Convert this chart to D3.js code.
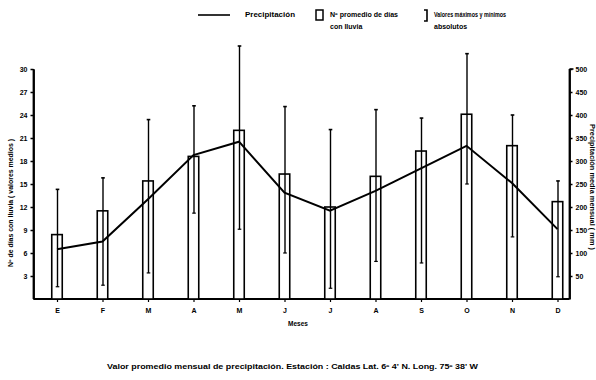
<!DOCTYPE html>
<html><head><meta charset="utf-8">
<script src="https://cdn.jsdelivr.net/npm/d3@7"></script>
<style>body{margin:0;background:#fff}svg{display:block}text{font-family:"Liberation Sans",Arial,sans-serif;font-weight:bold;fill:#000}</style>
</head><body>
<svg id="c" width="596" height="380"></svg>
<script>
const months = ["E","F","M","A","M2","J","J2","A2","S","O","N","D"];
const monthLabels = ["E","F","M","A","M","J","J","A","S","O","N","D"];
const rainDays = [8.4,11.5,15.4,18.6,22.0,16.3,12.0,16.0,19.3,24.1,20.0,12.7];
const daysMax = [14.3,15.8,23.4,25.2,33.0,25.1,22.1,24.7,23.6,32.0,24.0,15.4];
const daysMin = [1.6,1.8,3.4,11.2,9.1,6.0,1.4,4.9,4.7,15.0,8.1,2.9];
const precip = [108,125,217,313,342,231,192,235,284,333,252,152];
const leftTicks = [3,6,9,12,15,18,21,24,27,30];
const rightTicks = [50,100,150,200,250,300,350,400,450,500];

const svg = d3.select("#c");
const x = d3.scalePoint().domain(months).range([57,557.5]);
const yL = d3.scaleLinear().domain([0,30]).range([299,69]);
const yR = d3.scaleLinear().domain([0,500]).range([299,69]);
const xLeft = 33.5, xRight = 569.5, bw = 10.5;

// axes
const axL = svg.append("g").attr("transform",`translate(${xLeft},0)`)
  .call(d3.axisLeft(yL).tickValues(leftTicks).tickSize(3).tickPadding(3).tickSizeOuter(0));
const axR = svg.append("g").attr("transform",`translate(${xRight},0)`)
  .call(d3.axisRight(yR).tickValues(rightTicks).tickSize(3).tickPadding(3).tickSizeOuter(0));
[axL,axR].forEach(a=>{
  a.select(".domain").attr("stroke","#000").attr("stroke-width",1.8);
  a.selectAll(".tick line").attr("stroke","#000").attr("stroke-width",1.5);
  a.selectAll(".tick text").style("font-size","7px").style("font-weight","bold").style("font-family","Liberation Sans, Arial");
});
svg.append("line").attr("x1",xLeft).attr("x2",xLeft).attr("y1",yL(30)).attr("y2",299).attr("stroke","#000").attr("stroke-width",1.8);
svg.append("line").attr("x1",xRight).attr("x2",xRight).attr("y1",yR(500)).attr("y2",299).attr("stroke","#000").attr("stroke-width",1.8);
svg.append("line").attr("x1",xRight).attr("x2",xRight+4).attr("y1",yR(500)).attr("y2",yR(500)).attr("stroke","#000").attr("stroke-width",1.5);

const axB = svg.append("g").attr("transform","translate(0,299)")
  .call(d3.axisBottom(x).tickSize(3).tickPadding(6).tickFormat((d,i)=>monthLabels[i]));
axB.select(".domain").remove();
axB.selectAll(".tick line").attr("stroke","#000").attr("stroke-width",1.2);
axB.selectAll(".tick text").style("font-size","7px").style("font-weight","bold").style("font-family","Liberation Sans, Arial");
svg.append("line").attr("x1",xLeft).attr("x2",xRight).attr("y1",299).attr("y2",299).attr("stroke","#000").attr("stroke-width",2);

// bars
svg.selectAll("rect.bar").data(months).join("rect").attr("class","bar")
  .attr("x",d=>x(d)-bw/2).attr("width",bw)
  .attr("y",(d,i)=>yL(rainDays[i])).attr("height",(d,i)=>299-yL(rainDays[i]))
  .attr("fill","#fff").attr("stroke","#000").attr("stroke-width",1.6);

// whiskers
const wg = svg.append("g");
months.forEach((m,i)=>{
  const cx = x(m)+0.5;
  wg.append("line").attr("x1",cx).attr("x2",cx).attr("y1",yL(daysMax[i])).attr("y2",yL(daysMin[i])).attr("stroke","#000").attr("stroke-width",1.4);
  wg.append("line").attr("x1",cx-1.8).attr("x2",cx+1.8).attr("y1",yL(daysMax[i])).attr("y2",yL(daysMax[i])).attr("stroke","#000").attr("stroke-width",1.6);
  wg.append("line").attr("x1",cx-1.8).attr("x2",cx+1.8).attr("y1",yL(daysMin[i])).attr("y2",yL(daysMin[i])).attr("stroke","#000").attr("stroke-width",1.2);
});

// precipitation line
const line = d3.line().x((d,i)=>x(months[i])).y(d=>yR(d));
svg.append("path").datum(precip).attr("d",line).attr("fill","none").attr("stroke","#000").attr("stroke-width",2);

// axis titles
svg.append("text").attr("transform","translate(13,203) rotate(-90)").attr("text-anchor","middle")
  .attr("textLength",128).attr("lengthAdjust","spacingAndGlyphs")
  .style("font-size","7px").text("Nº de días con lluvia   ( valores medios )");
svg.append("text").attr("transform","translate(590,187) rotate(90)").attr("text-anchor","middle")
  .attr("textLength",126).attr("lengthAdjust","spacingAndGlyphs")
  .style("font-size","7px").text("Precipitación media mensual ( mm )");
svg.append("text").attr("x",298).attr("y",326).attr("text-anchor","middle").style("font-size","6.5px").text("Meses");

// legend
svg.append("line").attr("x1",198).attr("x2",230).attr("y1",15).attr("y2",15).attr("stroke","#000").attr("stroke-width",1.6);
svg.append("text").attr("x",245).attr("y",17).attr("textLength",50).attr("lengthAdjust","spacingAndGlyphs").style("font-size","7px").text("Precipitación");
svg.append("rect").attr("x",316).attr("y",10).attr("width",7).attr("height",10).attr("fill","#fff").attr("stroke","#000").attr("stroke-width",1.5);
svg.append("text").attr("x",330).attr("y",17).attr("textLength",68).attr("lengthAdjust","spacingAndGlyphs").style("font-size","7px").text("Nº promedio de días");
svg.append("text").attr("x",330).attr("y",29).style("font-size","7px").text("con lluvia");
svg.append("path").attr("d","M424,10 H427 V21 H424").attr("fill","none").attr("stroke","#000").attr("stroke-width",1.6);
svg.append("text").attr("x",434).attr("y",17).attr("textLength",72).attr("lengthAdjust","spacingAndGlyphs").style("font-size","7px").text("Valores máximos y mínimos");
svg.append("text").attr("x",434).attr("y",29).style("font-size","7px").text("absolutos");

// footer
svg.append("text").attr("x",107).attr("y",369).attr("textLength",371).attr("lengthAdjust","spacingAndGlyphs")
  .style("font-size","7px").text("Valor promedio mensual de precipitación. Estación : Caldas   Lat. 6º 4' N.   Long. 75º 38' W");
</script>
</body></html>
